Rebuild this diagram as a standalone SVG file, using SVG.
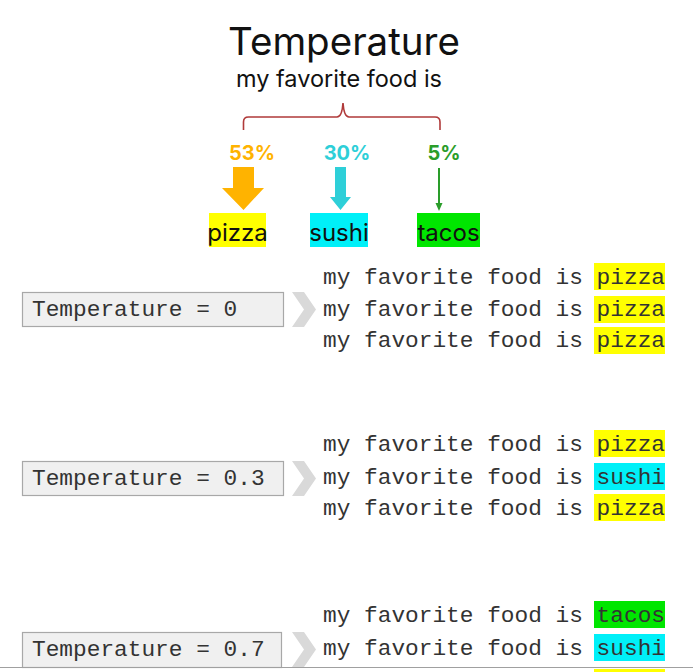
<svg xmlns="http://www.w3.org/2000/svg" width="693" height="672" viewBox="0 0 693 672">
<style>
.head{font-family:Inter,"Noto Sans",sans-serif;fill:#111}
.pct{font-family:Inter,"Noto Sans",sans-serif;font-weight:700;font-size:20px}
.lbl{font-family:Inter,"Noto Sans",sans-serif;font-size:24px;fill:#111}
.mono{font-family:"Liberation Mono","DejaVu Sans Mono",monospace;font-size:22.8px;fill:#333}
.box{fill:#f0f0f0;stroke:#a8a8a8;stroke-width:1.2}
.chev{fill:#d9d9d9}
.hy{fill:#ffff00}
.hc{fill:#00f0f8}
.hg{fill:#00e600}
</style>
<rect width="693" height="672" fill="#ffffff"/>
<g id="title">
<text class="head" x="344" y="55" font-size="38.5" text-anchor="middle">Temperature</text>
<text class="head" x="339" y="87" font-size="23.5" text-anchor="middle">my favorite food is</text>
</g>
<g id="brace">
<path d="M243.5,130 V122 Q243.5,117 248.5,117 H337 Q342,117 343,103 Q344,117 349,117 H435 Q440,117 440,122 V130" fill="none" stroke="#b03a3a" stroke-width="1.6"/>
</g>
<g id="percentages">
<text class="pct" x="252" y="160" text-anchor="middle" fill="#ffb300">53%</text>
<text class="pct" x="347" y="160" text-anchor="middle" fill="#2ecfd8">30%</text>
<text class="pct" x="444" y="160" text-anchor="middle" fill="#2a9d2a">5%</text>
</g>
<g id="connectors">
<polygon points="233,167 254,167 254,188 264,188 243.5,210 222,188 233,188" fill="#ffb300"/>
<polygon points="335,167 346,167 346,197 351,197 340.5,210 330,197 335,197" fill="#2ecfd8"/>
<line x1="439" y1="168" x2="439" y2="204" stroke="#2a9d2a" stroke-width="2"/>
<polygon points="435.5,203 442.5,203 439,211" fill="#2a9d2a"/>
</g>
<g id="pizza">
<rect x="209" y="213" width="57" height="34" class="hy"/>
<text class="lbl" x="237.5" y="241" text-anchor="middle">pizza</text>
</g>
<g id="sushi">
<rect x="310" y="213" width="58" height="34" class="hc"/>
<text class="lbl" x="339" y="241" text-anchor="middle">sushi</text>
</g>
<g id="tacos">
<rect x="417" y="213" width="63" height="34" class="hg"/>
<text class="lbl" x="448.5" y="241" text-anchor="middle">tacos</text>
</g>
<g id="temp0">
<rect x="22.5" y="292.5" width="261" height="34" class="box"/>
<text class="mono" x="32" y="316">Temperature = 0</text>
<polygon class="chev" points="292,292 304,292 316,309.5 304,327 292,327 304,309.5"/>
<rect x="594" y="263" width="71" height="27" class="hy"/>
<rect x="594" y="296" width="71" height="27" class="hy"/>
<rect x="594" y="327" width="71" height="27" class="hy"/>
<text class="mono" x="323" y="284">my favorite food is pizza</text>
<text class="mono" x="323" y="316">my favorite food is pizza</text>
<text class="mono" x="323" y="347">my favorite food is pizza</text>
</g>
<g id="temp03">
<rect x="22.5" y="461.5" width="261" height="34" class="box"/>
<text class="mono" x="32" y="485">Temperature = 0.3</text>
<polygon class="chev" points="292,461 304,461 316,478.5 304,496 292,496 304,478.5"/>
<rect x="594" y="430" width="71" height="27" class="hy"/>
<rect x="594" y="463" width="71" height="27" class="hc"/>
<rect x="594" y="494" width="71" height="27" class="hy"/>
<text class="mono" x="323" y="451">my favorite food is pizza</text>
<text class="mono" x="323" y="484">my favorite food is sushi</text>
<text class="mono" x="323" y="515">my favorite food is pizza</text>
</g>
<g id="temp07">
<rect x="22.5" y="632.5" width="259" height="35" class="box"/>
<text class="mono" x="32" y="656">Temperature = 0.7</text>
<polygon class="chev" points="292,632 304,632 316,649.5 304,667 292,667 304,649.5"/>
<rect x="594" y="601" width="71" height="27" class="hg"/>
<rect x="594" y="634" width="71" height="27" class="hc"/>
<rect x="594" y="669" width="71" height="3" class="hy"/>
<text class="mono" x="323" y="622">my favorite food is tacos</text>
<text class="mono" x="323" y="655">my favorite food is sushi</text>
</g>
<line x1="0" y1="667.5" x2="693" y2="667.5" stroke="#a0a0a0" stroke-width="1"/>
</svg>
